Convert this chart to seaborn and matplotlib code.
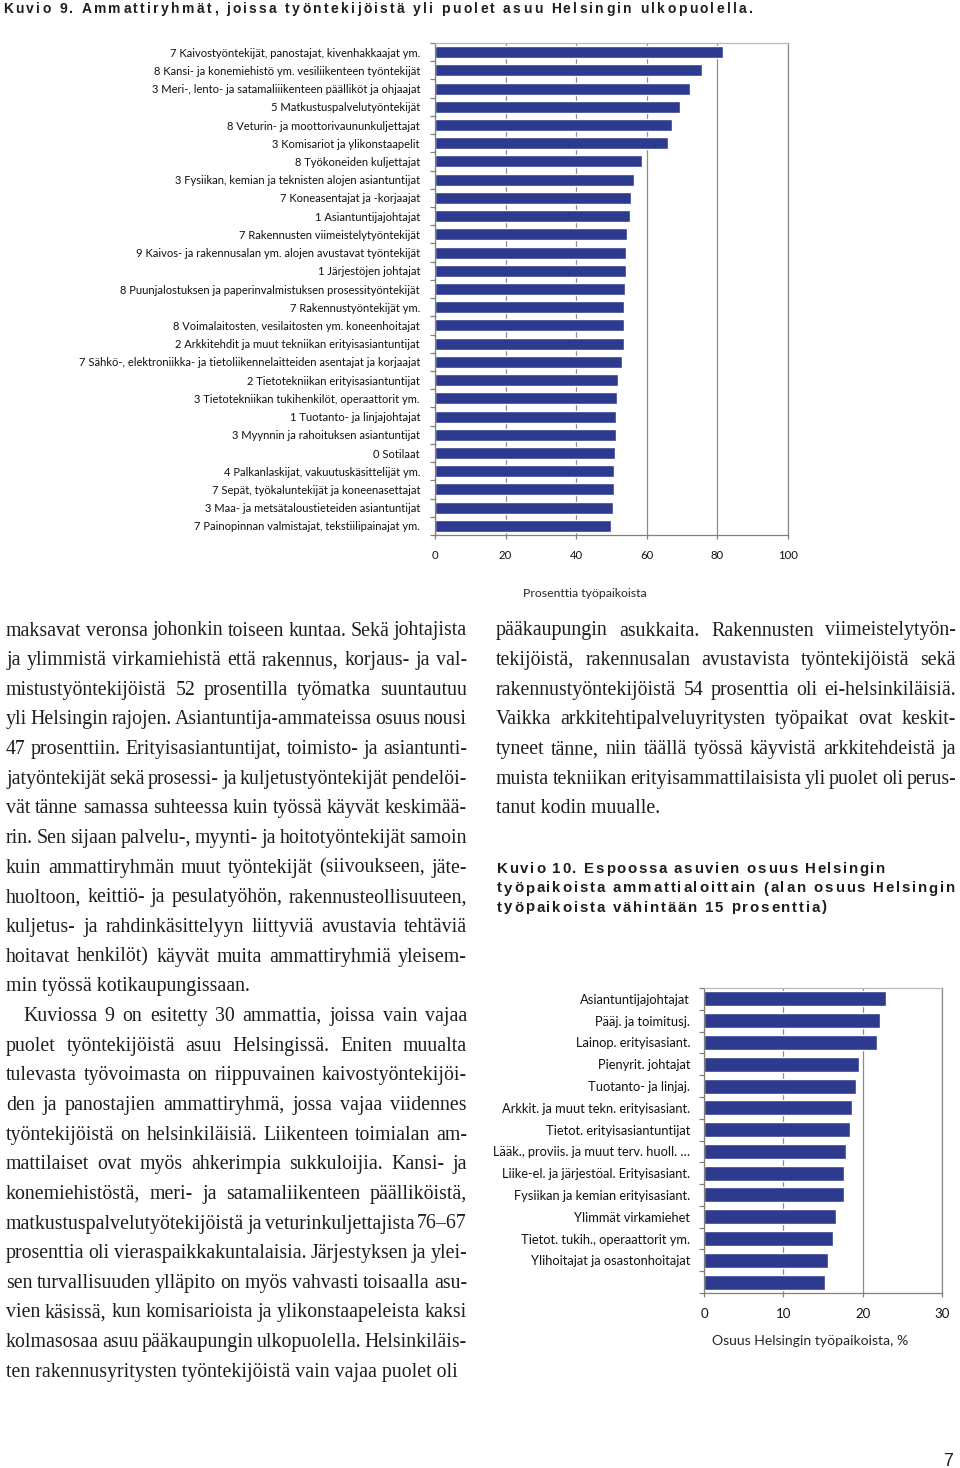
import numpy as np
import matplotlib
matplotlib.use("Agg")
import matplotlib.pyplot as plt
import seaborn as sns
from matplotlib.transforms import IdentityTransform

# --- data: Kuvio 9 ---
ammatit = [
    "7 Kaivostyöntekijät, panostajat, kivenhakkaajat ym.",
    "8 Kansi- ja konemiehistö ym. vesiliikenteen työntekijät",
    "3 Meri-, lento- ja satamaliiikenteen päälliköt ja ohjaajat",
    "5 Matkustuspalvelutyöntekijät",
    "8 Veturin- ja moottorivaununkuljettajat",
    "3 Komisariot ja ylikonstaapelit",
    "8 Työkoneiden kuljettajat",
    "3 Fysiikan, kemian ja teknisten alojen asiantuntijat",
    "7 Koneasentajat ja -korjaajat",
    "1 Asiantuntijajohtajat",
    "7 Rakennusten viimeistelytyöntekijät",
    "9 Kaivos- ja rakennusalan ym. alojen avustavat työntekijät",
    "1 Järjestöjen johtajat",
    "8 Puunjalostuksen ja paperinvalmistuksen prosessityöntekijät",
    "7 Rakennustyöntekijät ym.",
    "8 Voimalaitosten, vesilaitosten ym. koneenhoitajat",
    "2 Arkkitehdit ja muut tekniikan erityisasiantuntijat",
    "7 Sähkö-, elektroniikka- ja tietoliikennelaitteiden asentajat ja korjaajat",
    "2 Tietotekniikan erityisasiantuntijat",
    "3 Tietotekniikan tukihenkilöt, operaattorit ym.",
    "1 Tuotanto- ja linjajohtajat",
    "3 Myynnin ja rahoituksen asiantuntijat",
    "0 Sotilaat",
    "4 Palkanlaskijat, vakuutuskäsittelijät ym.",
    "7 Sepät, työkaluntekijät ja koneenasettajat",
    "3 Maa- ja metsätaloustieteiden asiantuntijat",
    "7 Painopinnan valmistajat, tekstiilipainajat ym.",
]
ulkopuolella_pct = [81.7, 75.7, 72.3, 69.4, 67.0, 65.9, 58.5, 56.4, 55.4, 55.2,
                    54.3, 54.1, 54.1, 53.9, 53.6, 53.6, 53.6, 53.1, 51.8, 51.6,
                    51.4, 51.2, 50.9, 50.6, 50.6, 50.3, 49.9]

# --- data: Kuvio 10 ---
ammatit_espoo = [
    "Asiantuntijajohtajat",
    "Pääj. ja toimitusj.",
    "Lainop. erityisasiant.",
    "Pienyrit. johtajat",
    "Tuotanto- ja linjaj.",
    "Arkkit. ja muut tekn. erityisasiant.",
    "Tietot. erityisasiantuntijat",
    "Lääk., proviis. ja muut terv. huoll. …",
    "Liike-el. ja järjestöal. Erityisasiant.",
    "Fysiikan ja kemian erityisasiant.",
    "Ylimmät virkamiehet",
    "Tietot. tukih., operaattorit ym.",
    "Ylihoitajat ja osastonhoitajat",
    " ",
]
espoo_pct = [22.9, 22.2, 21.8, 19.5, 19.2, 18.7, 18.4, 17.9, 17.7, 17.6,
             16.7, 16.3, 15.6, 15.2]

# --- body text ---
vasen_kpl1 = [
    "maksavat veronsa johonkin toiseen kuntaa. Sekä johtajista",
    "ja ylimmistä virkamiehistä että rakennus, korjaus- ja val-",
    "mistustyöntekijöistä 52 prosentilla työmatka suuntautuu",
    "yli Helsingin rajojen. Asiantuntija-ammateissa osuus nousi",
    "47 prosenttiin. Erityisasiantuntijat, toimisto- ja asiantunti-",
    "jatyöntekijät sekä prosessi- ja kuljetustyöntekijät pendelöi-",
    "vät tänne samassa suhteessa kuin työssä käyvät keskimää-",
    "rin. Sen sijaan palvelu-, myynti- ja hoitotyöntekijät samoin",
    "kuin ammattiryhmän muut työntekijät (siivoukseen, jäte-",
    "huoltoon, keittiö- ja pesulatyöhön, rakennusteollisuuteen,",
    "kuljetus- ja rahdinkäsittelyyn liittyviä avustavia tehtäviä",
    "hoitavat henkilöt) käyvät muita ammattiryhmiä yleisem-",
    "min työssä kotikaupungissaan.",
]
vasen_kpl2 = [
    "Kuviossa 9 on esitetty 30 ammattia, joissa vain vajaa",
    "puolet työntekijöistä asuu Helsingissä. Eniten muualta",
    "tulevasta työvoimasta on riippuvainen kaivostyöntekijöi-",
    "den ja panostajien ammattiryhmä, jossa vajaa viidennes",
    "työntekijöistä on helsinkiläisiä. Liikenteen toimialan am-",
    "mattilaiset ovat myös ahkerimpia sukkuloijia. Kansi- ja",
    "konemiehistöstä, meri- ja satamaliikenteen päälliköistä,",
    "matkustuspalvelutyötekijöistä ja veturinkuljettajista 76–67",
    "prosenttia oli vieraspaikkakuntalaisia. Järjestyksen ja ylei-",
    "sen turvallisuuden ylläpito on myös vahvasti toisaalla asu-",
    "vien käsissä, kun komisarioista ja ylikonstaapeleista kaksi",
    "kolmasosaa asuu pääkaupungin ulkopuolella. Helsinkiläis-",
    "ten rakennusyritysten työntekijöistä vain vajaa puolet oli",
]
oikea_kpl = [
    "pääkaupungin asukkaita. Rakennusten viimeistelytyön-",
    "tekijöistä, rakennusalan avustavista työntekijöistä sekä",
    "rakennustyöntekijöistä 54 prosenttia oli ei-helsinkiläisiä.",
    "Vaikka arkkitehtipalveluyritysten työpaikat ovat keskit-",
    "tyneet tänne, niin täällä työssä käyvistä arkkitehdeistä ja",
    "muista tekniikan erityisammattilaisista yli puolet oli perus-",
    "tanut kodin muualle.",
]
otsikko9 = "Kuvio 9. Ammattiryhmät, joissa työntekijöistä yli puolet asuu Helsingin ulkopuolella."
otsikko10 = [
    "Kuvio 10. Espoossa asuvien osuus Helsingin",
    "työpaikoista ammattialoittain (alan osuus Helsingin",
    "työpaikoista vähintään 15 prosenttia)",
]
xlabel9 = "Prosenttia työpaikoista"
xlabel10 = "Osuus Helsingin työpaikoista, %"

W, H = 960, 1468
BAR = "#2D3A8E"
GRID = "#8c8c8c"
SPINE = "#808080"
LAB = ["Liberation Sans Narrow", "Lato", "DejaVu Sans"]
SERIF = ["Liberation Serif", "DejaVu Serif"]
HEAD = ["Liberation Sans", "DejaVu Sans"]

sns.set_theme(style="white")
plt.rcParams["font.family"] = LAB

fig = plt.figure(figsize=(W / 100, H / 100), dpi=100)
renderer = fig.canvas.get_renderer()
PX = IdentityTransform()


def put(x, y, s, **kw):
    # x, y in pixels from top-left of the page
    return fig.text(x, H - y, s, transform=PX, **kw)


def ink_width(s, **kw):
    t = put(0, 0, s, **kw)
    w = t.get_window_extent(renderer).width
    t.remove()
    return w


def fit_size(s, target, **kw):
    return 10 * target / ink_width(s, fontsize=10, **kw)


def justify(line, x0, x1, y, **kw):
    words = line.split()
    ws = [ink_width(w, **kw) for w in words]
    gap = (x1 - x0 - sum(ws)) / max(len(words) - 1, 1)
    x = x0
    for w, wd in zip(words, ws):
        put(x, y, w, ha="left", va="baseline", **kw)
        x += wd + gap


def tracked(text, x0, x1, y, **kw):
    space = 0.26 * kw["fontsize"] * 100 / 72
    ws = [space if c == " " else ink_width(c, **kw) for c in text]
    track = (x1 - x0 - sum(ws)) / (len(text) - 1)
    x = x0
    for c, wd in zip(text, ws):
        if c != " ":
            put(x, y, c, ha="left", va="baseline", **kw)
        x += wd + track


# --- body text ---
body_fs = fit_size("min työssä kotikaupungissaan.", 244, family=SERIF)
BODY = dict(fontsize=body_fs, family=SERIF, color="#1e1e1e")
BASE0, LEAD = 635.5, 29.65


def paragraph(lines, x0, x1, y0, indent=0, last_left=True):
    for i, line in enumerate(lines):
        y = y0 + i * LEAD
        xs = x0 + (indent if i == 0 else 0)
        if i == len(lines) - 1 and last_left:
            put(xs, y, line, ha="left", va="baseline", **BODY)
        else:
            justify(line, xs, x1, y, **BODY)


paragraph(vasen_kpl1, 6, 467, BASE0)
paragraph(vasen_kpl2, 6, 467, BASE0 + 13 * LEAD, indent=17)
paragraph(oikea_kpl, 496, 956, BASE0)

# --- titles ---
tracked(otsikko9, 3, 753, 12.7, fontsize=10, family=HEAD, weight="bold", color="#1e1e1e")
for line, x1, y in zip(otsikko10, [885, 955, 827], [873.3, 892.5, 911.5]):
    tracked(line, 497, x1, y, fontsize=10.8, family=HEAD, weight="bold", color="#1e1e1e")

put(948, 1466, "7", ha="center", va="baseline", fontsize=13, family=HEAD, color="#1e1e1e")


def style_axes(ax, xmax, step, n, fs, tick_fs, ypad, xpad):
    ax.set_xlim(0, xmax)
    ax.set_xticks(np.arange(0, xmax + 1, step))
    ax.set_ylim(n - 0.5, -0.5)
    ax.set_yticks(np.arange(-0.5, n, 1), minor=True)
    ax.grid(axis="x", color=GRID, linewidth=0.9)
    ax.grid(axis="y", visible=False)
    ax.set_axisbelow(True)
    for side in ["left", "bottom"]:
        ax.spines[side].set_color(SPINE)
        ax.spines[side].set_linewidth(0.9)
    ax.spines["top"].set_color("#b8b8b8")
    ax.spines["top"].set_linewidth(0.9)
    ax.spines["right"].set_color(GRID)
    ax.spines["right"].set_linewidth(0.9)
    ax.tick_params(axis="y", which="major", left=False, length=0, pad=ypad,
                   labelsize=fs, labelcolor="#111111")
    ax.tick_params(axis="y", which="minor", left=True, length=3.5, width=0.9,
                   color=SPINE, direction="out")
    ax.tick_params(axis="x", bottom=True, length=3, width=0.9, color=SPINE,
                   direction="out", pad=xpad, labelsize=tick_fs, labelcolor="#111111")
    ax.set_xlabel("")
    ax.set_ylabel("")


# --- Kuvio 9 chart ---
fs1 = fit_size(ammatit[17], 338, family=LAB)
ax1 = fig.add_axes([435 / W, 1 - 535 / H, 353 / W, 492 / H])
sns.barplot(x=ulkopuolella_pct, y=ammatit, orient="h", color=BAR, saturation=1,
            width=0.66, errorbar=None, ax=ax1)
style_axes(ax1, 100, 20, len(ammatit), fs1, 8.2, 10.8, 8)
put(585, 597, xlabel9, ha="center", va="baseline",
    fontsize=fit_size(xlabel9, 125, family=LAB))

# --- Kuvio 10 chart ---
fs2 = fit_size(ammatit_espoo[5], 188, family=LAB)
ax2 = fig.add_axes([704 / W, 1 - 1293 / H, 238 / W, 305 / H])
sns.barplot(x=espoo_pct, y=ammatit_espoo, orient="h", color=BAR, saturation=1,
            width=0.69, errorbar=None, ax=ax2)
style_axes(ax2, 30, 10, len(ammatit_espoo), fs2, 9.5, 10, 7.5)
put(810, 1345, xlabel10, ha="center", va="baseline",
    fontsize=fit_size(xlabel10, 196, family=LAB))

fig.savefig("out.png", dpi=100, facecolor="white")
